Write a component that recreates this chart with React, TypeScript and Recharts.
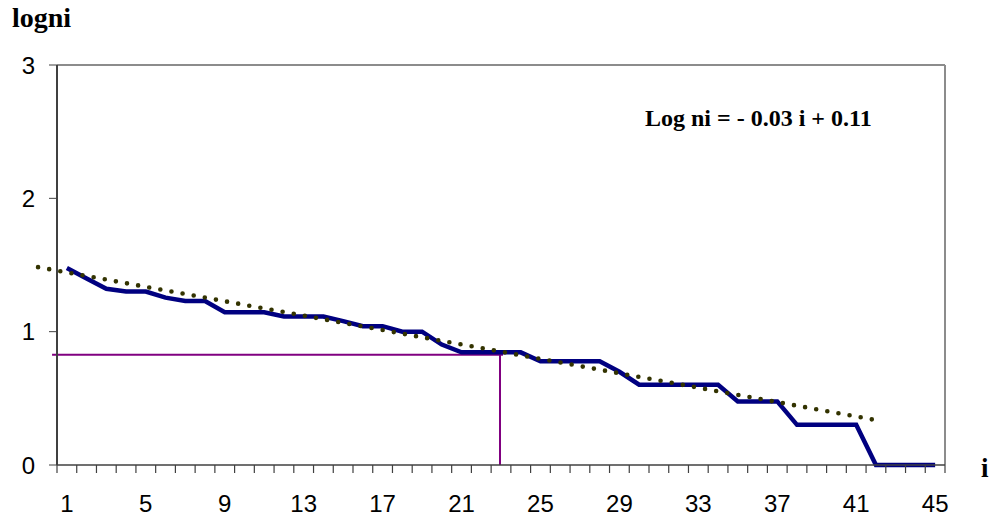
import React from "react";
import { LineChart, Line, XAxis, YAxis, ReferenceLine } from "recharts";

// i = rank, value = log(ni)
const ranks = [
  1, 2, 3, 4, 5, 6, 7, 8, 9, 10, 11, 12, 13, 14, 15, 16, 17, 18, 19, 20, 21, 22,
  23, 24, 25, 26, 27, 28, 29, 30, 31, 32, 33, 34, 35, 36, 37, 38, 39, 40, 41,
  42, 43, 44, 45,
];
const logni = [
  1.477, 1.398, 1.322, 1.301, 1.301, 1.255, 1.23, 1.23, 1.146, 1.146, 1.146,
  1.114, 1.114, 1.114, 1.079, 1.041, 1.041, 1.0, 1.0, 0.903, 0.845, 0.845,
  0.845, 0.845, 0.778, 0.778, 0.778, 0.778, 0.699, 0.602, 0.602, 0.602, 0.602,
  0.602, 0.477, 0.477, 0.477, 0.301, 0.301, 0.301, 0.301, 0, 0, 0, 0,
];
const xLabels = [1, 5, 9, 13, 17, 21, 25, 29, 33, 37, 41, 45];
const yTicks = [0, 1, 2, 3];

// dotted trend line ends
const trendStart = { x: -0.46, y: 1.484 };
const trendEnd = { x: 42.25, y: 0.33 };
// purple guide lines
const guideY = 0.826;
const guideX = 22.95;

const data = ranks.map((r, idx) => ({ i: r, v: logni[idx] }));
// tick marks sit between categories
const boundaries = [...ranks.map((r) => r - 0.5), ranks[ranks.length - 1] + 0.5];
const xTicks = [...boundaries, ...xLabels].sort((a, b) => a - b);

const SANS = "'Liberation Sans', Arial, sans-serif";
const SERIF = "'Liberation Serif', 'Times New Roman', serif";

const XTick = ({ x, y, payload }: any) => {
  const v = payload.value;
  if (Math.abs(v % 1) === 0.5) {
    return <line x1={x} y1={y} x2={x} y2={y + 8} stroke="#404040" strokeWidth={1.2} />;
  }
  return (
    <text x={x} y={y + 47} textAnchor="middle" fontFamily={SANS} fontSize={24} fill="#000">
      {v}
    </text>
  );
};

export default function App() {
  return (
    <div style={{ position: "relative", width: 991, height: 520 }}>
      <style>{`body{margin:0}`}</style>
      <LineChart
        width={991}
        height={520}
        data={data}
        margin={{ top: 65, right: 46, bottom: 0, left: 0 }}
      >
        <XAxis
          type="number"
          dataKey="i"
          domain={[0.5, 45.5]}
          ticks={xTicks}
          interval={0}
          tick={<XTick />}
          tickLine={false}
          tickSize={0}
          tickMargin={0}
          height={55}
          axisLine={{ stroke: "#404040", strokeWidth: 1.5 }}
        />
        <YAxis
          type="number"
          domain={[0, 3]}
          ticks={yTicks}
          interval={0}
          width={57}
          tickSize={8}
          tickMargin={14}
          tickLine={{ stroke: "#404040" }}
          axisLine={{ stroke: "#404040", strokeWidth: 2 }}
          tick={{ fontFamily: SANS, fontSize: 24, fill: "#000" }}
        />
        <ReferenceLine y={3} stroke="#8c8c8c" strokeWidth={2} />
        <ReferenceLine x={45.5} stroke="#8c8c8c" strokeWidth={2} />
        <ReferenceLine
          segment={[
            { x: 0.25, y: guideY },
            { x: 23.1, y: guideY },
          ]}
          ifOverflow="visible"
          stroke="#800080"
          strokeWidth={2}
        />
        <ReferenceLine
          segment={[
            { x: guideX, y: 0 },
            { x: guideX, y: guideY },
          ]}
          ifOverflow="visible"
          stroke="#800080"
          strokeWidth={2}
        />
        <Line
          type="linear"
          dataKey="v"
          stroke="#000080"
          strokeWidth={4.5}
          dot={false}
          activeDot={false}
          isAnimationActive={false}
        />
        <ReferenceLine
          segment={[trendStart, trendEnd]}
          ifOverflow="visible"
          stroke="#333300"
          strokeWidth={4.6}
          strokeDasharray="0 11.3"
          strokeLinecap="round"
        />
      </LineChart>
      <svg
        width={991}
        height={520}
        style={{ position: "absolute", left: 0, top: 0, pointerEvents: "none" }}
      >
        <text x={12} y={27} fontFamily={SERIF} fontWeight="bold" fontSize={28} fill="#000">
          logni
        </text>
        <text x={645} y={126} fontFamily={SERIF} fontWeight="bold" fontSize={24} fill="#000">
          Log ni = - 0.03 i + 0.11
        </text>
        <text x={981} y={477} fontFamily={SERIF} fontWeight="bold" fontSize={27} fill="#000">
          i
        </text>
      </svg>
    </div>
  );
}
